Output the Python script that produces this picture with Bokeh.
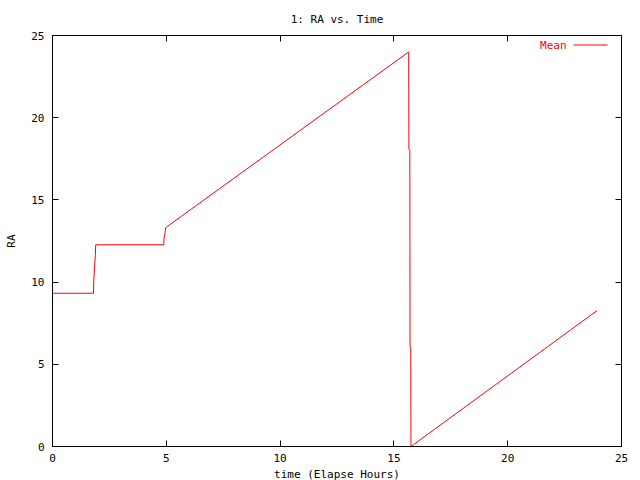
from bokeh.plotting import figure
from bokeh.models import LinearAxis, Range1d, FixedTicker, Label, Arrow
from bokeh.embed import file_html
from bokeh.resources import INLINE

# Data
time_hours = [0.0, 1.80, 1.81, 1.88, 1.90, 4.89, 4.90, 4.95, 4.97, 5.04,
              15.65, 15.66, 15.70, 15.71, 15.74, 15.75, 23.93]
ra_hours = [9.32, 9.32, 10.0, 11.6, 12.27, 12.27, 12.7, 13.0, 13.3, 13.38,
            24.0, 18.1, 18.0, 6.1, 6.0, 0.0, 8.27]
x_ticks = [0, 5, 10, 15, 20, 25]
y_ticks = [0, 5, 10, 15, 20, 25]
series_name = "Mean"
title_text = "1: RA vs. Time"
x_label = "time (Elapse Hours)"
y_label = "RA"

FONT = "DejaVu Sans Mono"
FS = "11px"
FRAME_W = 569
FRAME_H = 411

p = figure(frame_width=FRAME_W, frame_height=FRAME_H,
           min_border_left=52, min_border_right=11,
           min_border_top=33, min_border_bottom=31,
           x_range=Range1d(0, 25), y_range=Range1d(0, 25),
           output_backend="svg", toolbar_location=None,
           title=title_text)

p.title.align = "center"
p.title.text_font = FONT
p.title.text_font_size = FS
p.title.text_font_style = "normal"
p.title.text_color = "black"
p.title.standoff = 20

p.xgrid.visible = False
p.ygrid.visible = False
p.outline_line_color = "black"
p.outline_line_width = 1
p.background_fill_color = "white"
p.border_fill_color = "white"

for ax, ticks in ((p.xaxis[0], x_ticks), (p.yaxis[0], y_ticks)):
    ax.ticker = FixedTicker(ticks=ticks)
    ax.minor_tick_line_color = None
    ax.major_tick_in = 6
    ax.major_tick_out = 0
    ax.major_tick_line_color = "black"
    ax.axis_line_color = "black"
    ax.major_label_text_font = FONT
    ax.major_label_text_font_size = FS
    ax.major_label_text_color = "black"
    ax.axis_label_text_font = FONT
    ax.axis_label_text_font_size = FS
    ax.axis_label_text_font_style = "normal"
    ax.axis_label_text_color = "black"

p.xaxis.axis_label = x_label
p.yaxis.axis_label = y_label
p.xaxis.major_label_standoff = 7
p.xaxis.axis_label_standoff = 3
p.yaxis.major_label_standoff = 8
p.yaxis.axis_label_standoff = 10

for loc, ticks in (("above", x_ticks), ("right", y_ticks)):
    ax = LinearAxis(ticker=FixedTicker(ticks=ticks))
    ax.minor_tick_line_color = None
    ax.major_tick_in = 6
    ax.major_tick_out = 0
    ax.major_label_overrides = {t: "" for t in ticks}
    ax.major_label_text_font_size = "1px"
    ax.major_label_standoff = 0
    ax.axis_line_color = "black"
    p.add_layout(ax, loc)

line = p.line(time_hours, ra_hours, line_color="red", line_width=1)

# gnuplot-style key: red text on the left, line sample on the right
key_y = FRAME_H - 10
key_text = Label(x=514, y=key_y, x_units="screen", y_units="screen",
                 text=series_name, text_align="right", text_baseline="middle",
                 text_font=FONT, text_font_size=FS, text_color="red")
p.add_layout(key_text)
key_line = Arrow(end=None, start=None,
                 x_start=521, y_start=key_y + 0.5, x_end=555, y_end=key_y + 0.5,
                 start_units="screen", end_units="screen",
                 line_color="red", line_width=1)
p.add_layout(key_line)

open("out.html", "w").write(file_html(p, INLINE))
